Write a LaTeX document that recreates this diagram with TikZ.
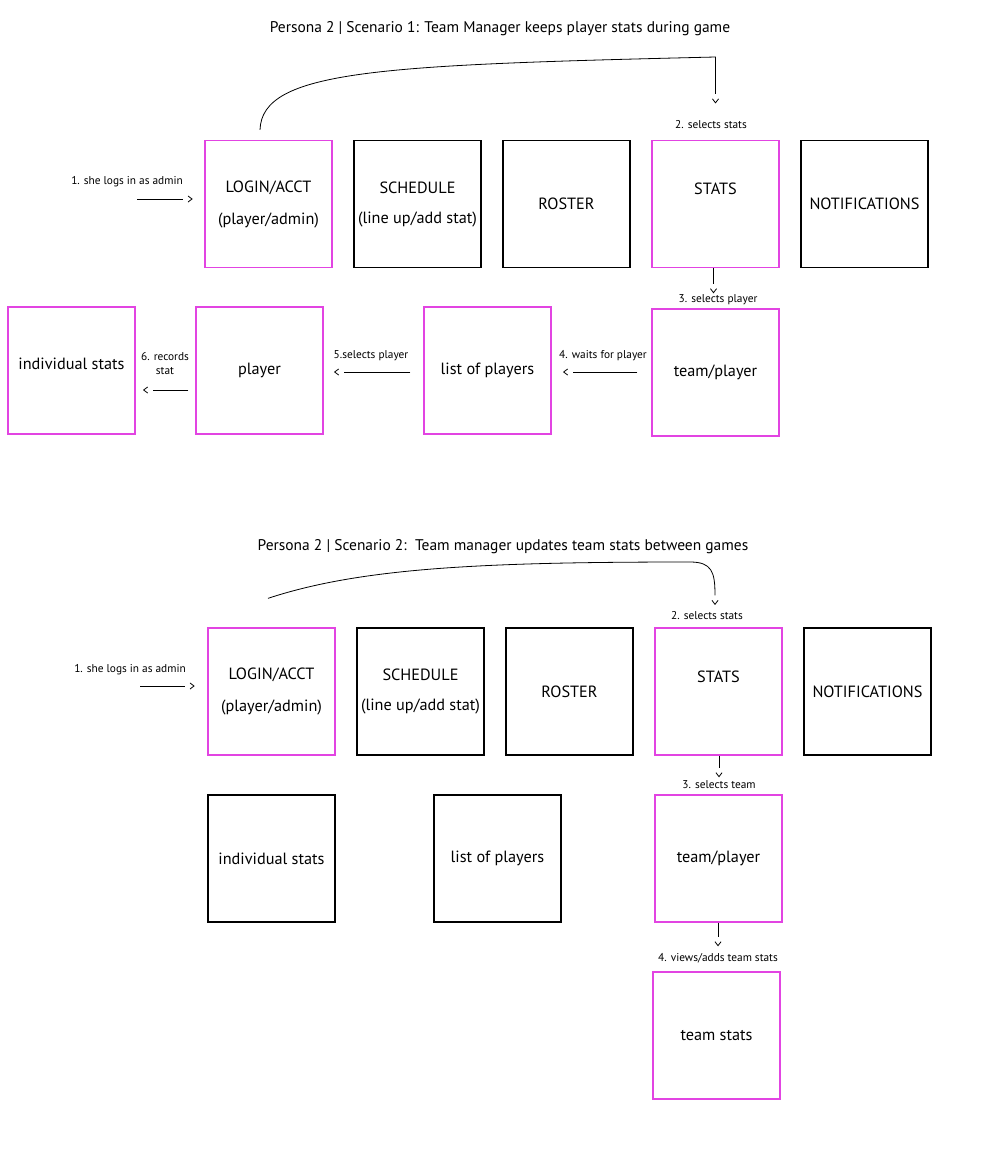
\documentclass[tikz,border=0pt]{standalone}
\usepackage{fontspec}
\setmainfont{PT Sans}
\usetikzlibrary{calc}

\definecolor{mag}{RGB}{226,68,226}

% open chevron tip that stands a little apart from the end of its line
\pgfdeclarearrow{
  name = Chev,
  setup code = {
    \pgfarrowssettipend{0pt}
    \pgfarrowssetbackend{-3pt}
    \pgfarrowssetlineend{-6.8pt}
  },
  drawing code = {
    \pgfsetdash{}{0pt}
    \pgfpathmoveto{\pgfqpoint{-3pt}{2.3pt}}
    \pgfpathlineto{\pgfqpoint{0pt}{0pt}}
    \pgfpathlineto{\pgfqpoint{-3pt}{-2.3pt}}
    \pgfusepathqstroke
  }
}

\begin{document}
\begin{tikzpicture}[x=0.75pt,y=-0.75pt,
  box/.style={draw=black, line width=1pt, minimum width=95.25pt, minimum height=95.25pt,
    inner sep=0pt, align=center, font=\fontsize{12.2}{14}\selectfont},
  pinkbox/.style={box, draw=mag},
  boxtxt/.style={inner sep=0pt, font=\fontsize{12.2}{14}\selectfont},
  lbl/.style={inner sep=0pt, align=center, font=\fontsize{8.5}{10.5}\selectfont},
  ttl/.style={inner sep=0pt, font=\fontsize{11.6}{13}\selectfont},
  conn/.style={line width=0.6pt, -Chev},
]
\useasboundingbox (0,0) rectangle (1000,1174);

% ---------------- Scenario 1 ----------------
\node[ttl] (title1) at (500,29) {Persona 2 | Scenario 1: Team Manager keeps player stats during game};

\node[pinkbox] (login1) at (268.5,204) {LOGIN/ACCT\\[10pt](player/admin)};
\node[box] (sched1) at (417.5,204) {SCHEDULE\\[8.5pt](line up/add stat)};
\node[box] (roster1) at (566.5,204) {ROSTER};
\node[pinkbox] (stats1) at (715.5,204) {};
\node[boxtxt] (stats1t) at (715.5,189) {STATS};
\node[box] (notif1) at (864.5,204) {NOTIFICATIONS};

\node[pinkbox] (indiv1) at (71.5,370.5) {};
\node[boxtxt] (indiv1t) at (71.5,364) {individual stats};
\node[pinkbox] (player1) at (259.5,370.5) {player};
\node[pinkbox] (list1) at (487.5,370.5) {list of players};
\node[pinkbox] (team1) at (715.5,372.5) {team/player};

\node[lbl] (l1a) at (127,182) {1. she logs in as admin};
\node[lbl] (l1b) at (711,125) {2. selects stats};
\node[lbl] (l1c) at (718,299.5) {3. selects player};
\node[lbl] (l1d) at (603,356) {4. waits for player};
\node[lbl] (l1e) at (371,356) {5.selects player};
\node[lbl] (l1f) at (165,364) {6. records\\stat};

\coordinate (in1s) at (137,199);
\coordinate (in1e) at (192,199);
\draw[conn] (in1s) -- (in1e);
\draw[conn] ($(login1.north)+(-8.5,-10)$) .. controls (262,70) and (380,65) .. (715.5,57)
  -- ($(stats1.north)+(0,-37)$);
\draw[conn] ($(stats1.south)+(-2,0)$) -- ($(stats1.south)+(-2,24.5)$);
\draw[conn] ($(team1.west)+(-14,-0.5)$) -- ($(list1.east)+(12,1.5)$);
\draw[conn] ($(list1.west)+(-13,1.5)$) -- ($(player1.east)+(11,1.5)$);
\draw[conn] ($(player1.west)+(-7,19.5)$) -- ($(indiv1.east)+(8,19.5)$);

% ---------------- Scenario 2 ----------------
\node[ttl] (title2) at (503,547) {Persona 2 | Scenario 2:\ \ Team manager updates team stats between games};

\node[pinkbox] (login2) at (271.5,691.5) {LOGIN/ACCT\\[10pt](player/admin)};
\node[box] (sched2) at (420.5,691.5) {SCHEDULE\\[8.5pt](line up/add stat)};
\node[box] (roster2) at (569.5,691.5) {ROSTER};
\node[pinkbox] (stats2) at (718.5,691.5) {};
\node[boxtxt] (stats2t) at (718.5,677) {STATS};
\node[box] (notif2) at (867.5,691.5) {NOTIFICATIONS};

\node[box] (indiv2) at (271.5,858.5) {individual stats};
\node[box] (list2) at (497.5,858.5) {list of players};
\node[pinkbox] (team2) at (718.5,858.5) {team/player};
\node[pinkbox] (tstats) at (716.5,1035.5) {team stats};

\node[lbl] (l2a) at (130,670) {1. she logs in as admin};
\node[lbl] (l2b) at (707,616) {2. selects stats};
\node[lbl] (l2c) at (719,785) {3. selects team};
\node[lbl] (l2d) at (718,958) {4. views/adds team stats};

\coordinate (in2s) at (140,686);
\coordinate (in2e) at (194,686);
\draw[conn] (in2s) -- (in2e);
\draw[conn] ($(login2.north)+(-3.5,-29)$) .. controls (360,568) and (480,562) .. (690,562)
  .. controls (712,562) and (715,572) .. ($(stats2.north)+(-3.5,-23)$);
\draw[conn] ($(stats2.south)+(0.5,0)$) -- ($(stats2.south)+(0.5,21)$);
\draw[conn] ($(team2.south)+(-0.5,0)$) -- ($(team2.south)+(-0.5,23)$);
\end{tikzpicture}
\end{document}
